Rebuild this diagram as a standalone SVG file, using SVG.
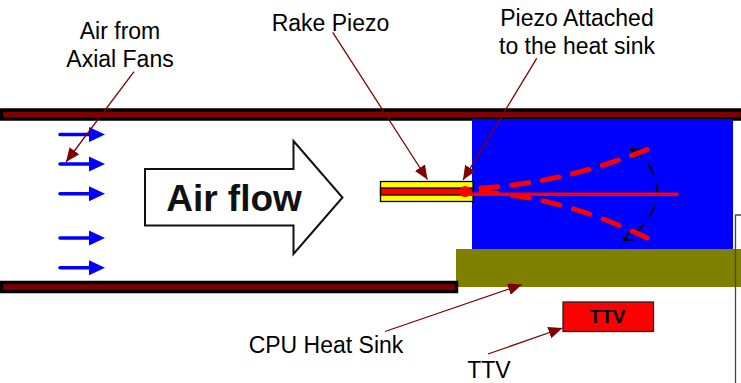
<svg xmlns="http://www.w3.org/2000/svg" width="741" height="383" viewBox="0 0 741 383">
<style>
.lbl{font-family:"Liberation Sans",Arial,sans-serif;font-size:23px;fill:#000}
.wall{fill:#800000;stroke:#000;stroke-width:3.500}
.leader{stroke:#800000;stroke-width:1.300;fill:none;marker-end:url(#dr)}
.flow{stroke:#0000ff;stroke-width:3.500;fill:none;stroke-linecap:round}
.head{fill:#0000ff}
.swing{stroke:#ff0000;stroke-width:5;fill:none;stroke-linecap:round}
</style>
<defs>
<marker id="dr" markerUnits="userSpaceOnUse" markerWidth="15" markerHeight="13" refX="14" refY="6" orient="auto"><path d="M0 0L14 6L0 12Z" fill="#800000"/></marker>
<marker id="bk" markerUnits="userSpaceOnUse" markerWidth="12" markerHeight="12" refX="10" refY="5" orient="auto-start-reverse"><path d="M0 0L10 5L0 10" fill="none" stroke="#000" stroke-width="1.800"/></marker>
</defs>
<rect width="741" height="383" fill="#fff"/>
<g id="heatsink-base"><rect x="456" y="249" width="285" height="38" fill="#808000"/></g>
<g id="top-wall"><rect class="wall" x="1.500" y="110" width="741" height="9"/></g>
<g id="bottom-wall"><rect class="wall" x="1.500" y="282.500" width="455" height="9"/></g>
<g id="heatsink-fins"><rect x="472" y="119" width="261" height="130" fill="#0000ff"/></g>
<g id="chassis"><path d="M741 215H735.500V383" fill="none" stroke="#444" stroke-width="1.300"/></g>
<g id="rake-piezo">
<rect x="380.500" y="181.500" width="92.500" height="20" fill="#ffff00" stroke="#000" stroke-width="1.300"/>
<rect x="380.500" y="188" width="92.500" height="7" fill="#ff0000" stroke="#000" stroke-width="1.300"/>
</g>
<g id="piezo-motion">
<path d="M631 149C650 160 658 178 657 194C656 212 643 230 624 240" stroke="#000" stroke-width="1.800" fill="none" stroke-dasharray="13 9" marker-start="url(#bk)" marker-end="url(#bk)"/>
<path d="M462 194.300H677" stroke="#ff0000" stroke-width="3.500" fill="none" stroke-linecap="round"/>
<circle cx="465" cy="191.500" r="5.500" fill="#ff0000"/>
<path class="swing" stroke-dasharray="17 13.900" d="M481 188Q563 183 647 149.500"/>
<path class="swing" stroke-dasharray="17 14.400" d="M481 192Q563 197 647 238"/>
</g>
<g id="air-flow">
<polygon points="145,169 293.500,169 293.500,141 342.500,197.500 293.500,254 293.500,225.500 145,225.500" fill="#fff" stroke="#111" stroke-width="2"/>
<text x="234" y="210.500" text-anchor="middle" style="font-family:'Liberation Sans',Arial,sans-serif;font-size:37px;font-weight:bold;fill:#111">Air flow</text>
</g>
<g id="fan-arrows">
<path class="flow" d="M60 134.500H92"/><path class="head" d="M89 127L105 134.500L89 142Z"/>
<path class="flow" d="M60 164H92"/><path class="head" d="M89 156.500L105 164L89 171.500Z"/>
<path class="flow" d="M60 193.700H92"/><path class="head" d="M89 186.200L105 193.700L89 201.200Z"/>
<path class="flow" d="M60 238H92"/><path class="head" d="M89 230.500L105 238L89 245.500Z"/>
<path class="flow" d="M60 267.700H92"/><path class="head" d="M89 260.200L105 267.700L89 275.200Z"/>
</g>
<g id="ttv">
<rect x="563" y="302" width="90.500" height="29.500" fill="#ff0000" stroke="#222" stroke-width="1.300"/>
<text x="607.500" y="323" text-anchor="middle" style="font-family:'Liberation Sans',Arial,sans-serif;font-size:19px;font-weight:bold;fill:#000">TTV</text>
</g>
<g id="connectors">
<path class="leader" d="M134 71.700L66 162"/>
<path class="leader" d="M332.700 32.300L427.500 179.500"/>
<path class="leader" d="M536.700 58.300L463 180"/>
<path class="leader" d="M385 331.500L522 284.500"/>
<path class="leader" d="M488 354L562.500 328"/>
</g>
<g id="labels">
<text class="lbl" x="120" y="39" text-anchor="middle">Air from</text>
<text class="lbl" x="120" y="67" text-anchor="middle">Axial Fans</text>
<text class="lbl" x="330.500" y="31" text-anchor="middle">Rake Piezo</text>
<text class="lbl" x="577" y="26" text-anchor="middle">Piezo Attached</text>
<text class="lbl" x="577" y="54" text-anchor="middle">to the heat sink</text>
<text class="lbl" x="326" y="353" text-anchor="middle">CPU Heat Sink</text>
<text class="lbl" x="489" y="378" text-anchor="middle">TTV</text>
</g>
</svg>
